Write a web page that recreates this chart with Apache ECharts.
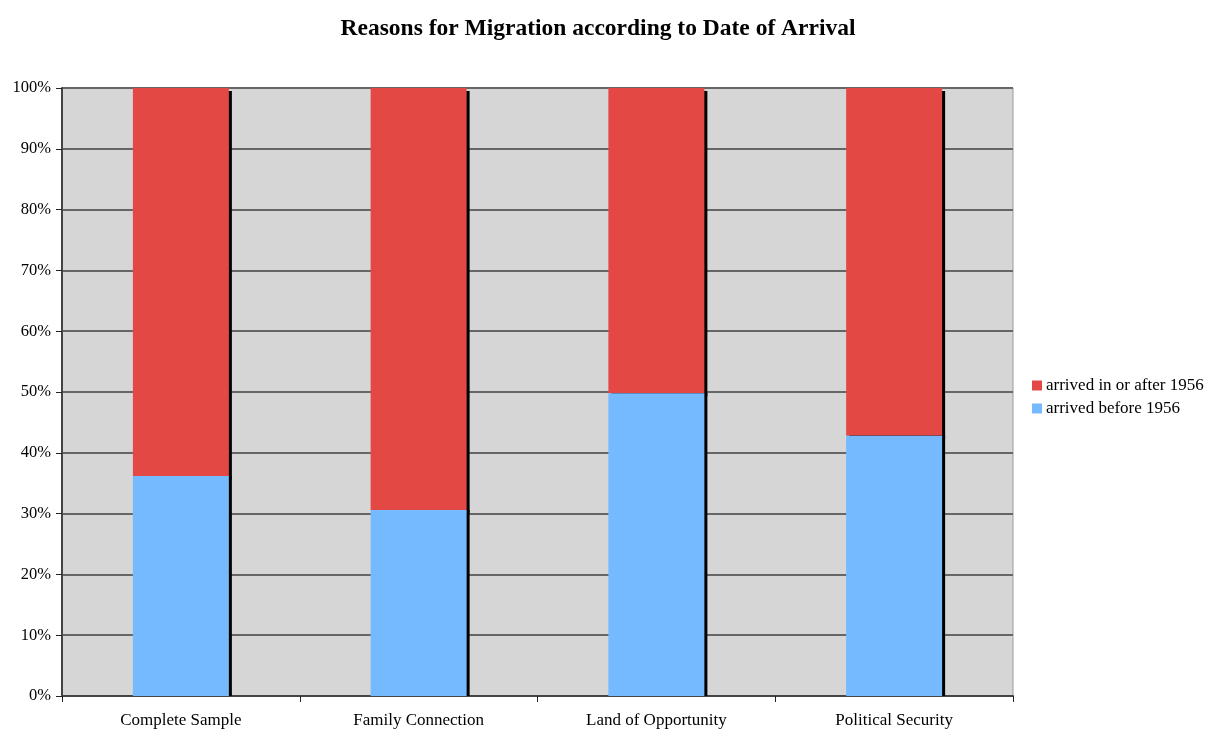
<!DOCTYPE html>
<html>
<head>
<meta charset="utf-8">
<script src="https://cdn.jsdelivr.net/npm/echarts@6/dist/echarts.min.js"></script>
<style>
  html, body { margin: 0; padding: 0; background: #ffffff; }
  #chart { width: 1210px; height: 729px; }
</style>
</head>
<body>
<div id="chart"></div>
<script>
// Share of respondents by reason for migration, split by arrival date (percent)
const categories = ['Complete Sample', 'Family Connection', 'Land of Opportunity', 'Political Security'];
const beforeLabel = 'arrived before 1956';
const afterLabel = 'arrived in or after 1956';
const arrivedBefore = [36.2, 30.6, 49.8, 42.8];
const arrivedAfter = [63.8, 69.4, 50.2, 57.2];
const yTicks = [0, 10, 20, 30, 40, 50, 60, 70, 80, 90, 100];

const serif = '"Liberation Serif", "Times New Roman", serif';
const chart = echarts.init(document.getElementById('chart'));

chart.setOption({
  animation: false,
  title: {
    text: 'Reasons for Migration according to Date of Arrival',
    left: 593,
    textAlign: 'center',
    top: 12,
    textStyle: { fontFamily: serif, fontSize: 23.5, fontWeight: 'bold', color: '#000' }
  },
  legend: {
    orient: 'vertical',
    left: 1027,
    top: 372,
    icon: 'rect',
    itemWidth: 10,
    itemHeight: 10,
    itemGap: 6,
    data: [afterLabel, beforeLabel],
    textStyle: { fontFamily: serif, fontSize: 17, color: '#000', padding: [0, 0, 0, -1] }
  },
  grid: {
    left: 62, right: 197, top: 88, bottom: 33,
    show: true,
    backgroundColor: '#d6d6d6',
    borderColor: '#9a9a9a',
    borderWidth: 1
  },
  xAxis: {
    type: 'category',
    data: categories,
    axisLine: { lineStyle: { color: '#444', width: 2 } },
    axisTick: { show: true, length: 6, lineStyle: { color: '#222', width: 1 } },
    axisLabel: { fontFamily: serif, fontSize: 17, color: '#000', margin: 16 }
  },
  yAxis: {
    type: 'value',
    min: yTicks[0],
    max: yTicks[yTicks.length - 1],
    interval: 10,
    axisLine: { show: true, lineStyle: { color: '#444', width: 2 } },
    axisTick: { show: true, length: 6, lineStyle: { color: '#222', width: 1 } },
    splitLine: { lineStyle: { color: '#666', width: 2 } },
    axisLabel: { fontFamily: serif, fontSize: 16.5, color: '#000', margin: 11, formatter: '{value}%' }
  },
  series: [
    {
      name: beforeLabel,
      type: 'bar',
      stack: 'total',
      barWidth: 96,
      z: 3,
      data: arrivedBefore,
      itemStyle: { color: '#75b9ff', shadowColor: '#000', shadowBlur: 0, shadowOffsetX: 3, shadowOffsetY: 0 }
    },
    {
      name: afterLabel,
      type: 'bar',
      stack: 'total',
      barWidth: 96,
      z: 2,
      data: arrivedAfter,
      itemStyle: { color: '#e34844', shadowColor: '#000', shadowBlur: 0, shadowOffsetX: 3, shadowOffsetY: 3 }
    }
  ]
});
</script>
</body>
</html>
